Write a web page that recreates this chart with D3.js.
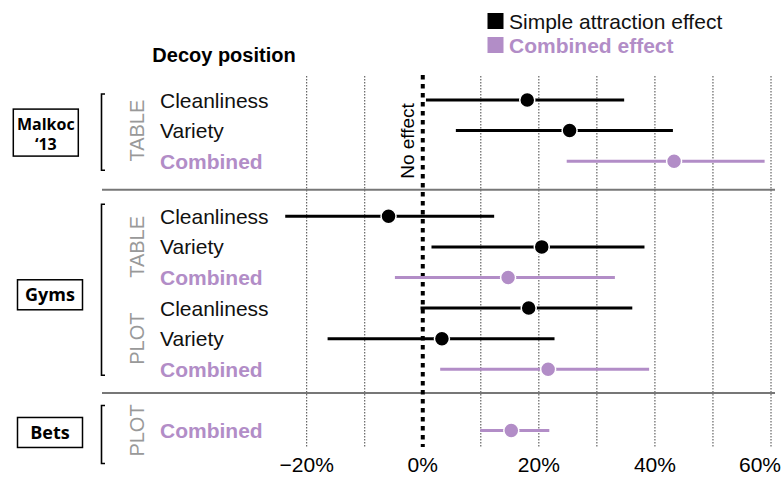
<!DOCTYPE html>
<html>
<head>
<meta charset="utf-8">
<script src="https://cdn.jsdelivr.net/npm/d3@7"></script>
<style>
  body { margin: 0; background: #fff; }
  text { font-family: "Liberation Sans", Arial, sans-serif; }
  .boxText { font-family: "Open Sans", sans-serif; font-weight: 700; }
</style>
</head>
<body>
<div id="chart"></div>
<script>
// Chart data
let groups = ["Malkoc\n\u201813", "Gyms", "Bets"];
let rowGroup = [0, 0, 0, 1, 1, 1, 1, 1, 1, 2];
let rowPosition = ["TABLE", "TABLE", "TABLE", "TABLE", "TABLE", "TABLE", "PLOT", "PLOT", "PLOT", "PLOT"];
let rowLabels = ["Cleanliness", "Variety", "Combined", "Cleanliness", "Variety", "Combined",
    "Cleanliness", "Variety", "Combined", "Combined"];
let rowKind = ["simple", "simple", "combined", "simple", "simple", "combined",
    "simple", "simple", "combined", "combined"];
let estimates = [18.0, 25.3, 43.3, -5.9, 20.5, 14.7, 18.25, 3.3, 21.6, 15.25];
let lower = [0.55, 5.7, 24.8, -23.7, 1.5, -4.8, -0.4, -16.4, 3.0, 9.9];
let upper = [34.7, 43.1, 58.9, 12.3, 38.2, 33.1, 36.1, 22.7, 39.0, 21.8];
let tickValues = [-20, 0, 20, 40, 60];
let gridValues = [-20, -10, 10, 20, 30, 40, 50, 60];
let legendLabels = ["Simple attraction effect", "Combined effect"];

// Layout
let svgWidth = 784;
let svgHeight = 477;
let black = "#000";
let purple = "#b28dc7";
let groupGap = [0, 0.8, 1.8];
let bracketPad = [[6, 9], [12, 6], [25, 33]];
let boxSize = [[65, 47], [65, 30], [65, 30]];
let boxCenterX = [45.8, 50, 50];
let plotTop = 76;
let plotBottom = 447;

let svg = d3.select("#chart")
    .append("svg")
    .attr("width", svgWidth)
    .attr("height", svgHeight);

let rows = rowLabels.map((label, i) => ({
    label: label,
    group: rowGroup[i],
    position: rowPosition[i],
    kind: rowKind[i],
    est: estimates[i],
    lo: lower[i],
    hi: upper[i],
    slot: i + groupGap[rowGroup[i]]
}));

// scales
let xScale = d3.scaleLinear().domain([-20, 60]).range([306.7, 771]);
let yScale = d3.scaleLinear().domain([0, 1]).range([100, 130.6]);
let color = k => k === "combined" ? purple : black;

// grid lines
svg.append("g").selectAll("line")
    .data(gridValues)
    .enter()
    .append("line")
    .attr("x1", d => xScale(d))
    .attr("x2", d => xScale(d))
    .attr("y1", plotTop)
    .attr("y2", plotBottom)
    .attr("stroke", "#444")
    .attr("stroke-width", 1)
    .attr("stroke-dasharray", "1.5,1.5");

// group separators
let groupIdx = d3.range(groups.length);
let separators = groupIdx.slice(1).map(g => {
    let prev = rows.filter(r => r.group === g - 1);
    let next = rows.filter(r => r.group === g);
    return (yScale(d3.max(prev, r => r.slot)) + yScale(d3.min(next, r => r.slot))) / 2 + (g === 1 ? 1 : -7);
});
svg.append("g").selectAll("line")
    .data(separators)
    .enter()
    .append("line")
    .attr("x1", 102)
    .attr("x2", 775)
    .attr("y1", d => d)
    .attr("y2", d => d)
    .attr("stroke", "#777")
    .attr("stroke-width", 2);

// no effect line
svg.append("line")
    .attr("x1", xScale(0))
    .attr("x2", xScale(0))
    .attr("y1", plotTop - 1)
    .attr("y2", plotBottom)
    .attr("stroke", black)
    .attr("stroke-width", 4)
    .attr("stroke-dasharray", "4.5,4.5");

svg.append("text")
    .attr("transform", `translate(${xScale(0) - 9}, 141) rotate(-90)`)
    .attr("text-anchor", "middle")
    .style("font-size", "19px")
    .text("No effect");

// error bars
let bars = svg.append("g").selectAll("g")
    .data(rows)
    .enter()
    .append("g");

bars.append("line")
    .attr("x1", d => xScale(d.lo))
    .attr("x2", d => xScale(d.hi))
    .attr("y1", d => yScale(d.slot))
    .attr("y2", d => yScale(d.slot))
    .attr("stroke", d => color(d.kind))
    .attr("stroke-width", 3);

bars.append("circle")
    .attr("cx", d => xScale(d.est))
    .attr("cy", d => yScale(d.slot))
    .attr("r", 7.5)
    .attr("fill", d => color(d.kind))
    .attr("stroke", "#fff")
    .attr("stroke-width", 1.5);

// row labels
svg.append("g").selectAll("text")
    .data(rows)
    .enter()
    .append("text")
    .attr("x", 160)
    .attr("y", d => yScale(d.slot))
    .attr("dy", "0.36em")
    .style("font-size", "21px")
    .style("font-weight", d => d.kind === "combined" ? "700" : "400")
    .attr("fill", d => d.kind === "combined" ? purple : "#111")
    .text(d => d.label);

// TABLE / PLOT labels
let subgroups = d3.groups(rows, d => d.group + "|" + d.position);
svg.append("g").selectAll("text")
    .data(subgroups)
    .enter()
    .append("text")
    .attr("transform", d => {
        let ys = d[1].map(r => yScale(r.slot));
        return `translate(144, ${(d3.min(ys) + d3.max(ys)) / 2}) rotate(-90)`;
    })
    .attr("text-anchor", "middle")
    .style("font-size", "20px")
    .attr("fill", "#999")
    .text(d => d[1][0].position);

// brackets and group boxes
groupIdx.forEach(g => {
    let gr = rows.filter(r => r.group === g);
    let top = yScale(d3.min(gr, r => r.slot)) - bracketPad[g][0];
    let bottom = yScale(d3.max(gr, r => r.slot)) + bracketPad[g][1];
    svg.append("path")
        .attr("d", `M105,${top}H101.5V${bottom}H105`)
        .attr("fill", "none")
        .attr("stroke", black)
        .attr("stroke-width", 1.6);

    let mid = (yScale(d3.min(gr, r => r.slot)) + yScale(d3.max(gr, r => r.slot))) / 2 + 2;
    let w = boxSize[g][0], h = boxSize[g][1];
    svg.append("rect")
        .attr("x", boxCenterX[g] - w / 2)
        .attr("y", mid - h / 2)
        .attr("width", w)
        .attr("height", h)
        .attr("fill", "none")
        .attr("stroke", black)
        .attr("stroke-width", 1.5);

    // one text per line so the two lines of "Malkoc '13" stay apart
    let lines = groups[g].split("\n");
    lines.forEach((ln, i) => {
        svg.append("text")
            .attr("class", "boxText")
            .attr("text-anchor", "middle")
            .style("font-size", lines.length > 1 ? "16px" : "18px")
            .attr("x", boxCenterX[g])
            .attr("y", mid + (lines.length > 1 ? -2.5 + i * 20 : 6.5))
            .text(ln);
    });
});

// x axis labels
svg.append("g").selectAll("text")
    .data(tickValues)
    .enter()
    .append("text")
    .attr("x", (d, i) => i === tickValues.length - 1 ? svgWidth - 3 : xScale(d))
    .attr("y", 472)
    .attr("text-anchor", (d, i) => i === tickValues.length - 1 ? "end" : "middle")
    .style("font-size", "21px")
    .text(d => (d < 0 ? "\u2212" + Math.abs(d) : d) + "%");

// title
svg.append("text")
    .attr("x", 224)
    .attr("y", 62)
    .attr("text-anchor", "middle")
    .style("font-size", "20px")
    .style("font-weight", "700")
    .text("Decoy position");

// legend
let legend = svg.append("g").selectAll("g")
    .data(legendLabels)
    .enter()
    .append("g")
    .attr("transform", (d, i) => `translate(487.5, ${13 + i * 24})`);

legend.append("rect")
    .attr("width", 16)
    .attr("height", 16)
    .attr("fill", (d, i) => i === 0 ? black : purple);

legend.append("text")
    .attr("x", 21.5)
    .attr("y", 15.5)
    .style("font-size", "21px")
    .style("font-weight", (d, i) => i === 0 ? "400" : "700")
    .attr("fill", (d, i) => i === 0 ? "#111" : purple)
    .text(d => d);
</script>
</body>
</html>
